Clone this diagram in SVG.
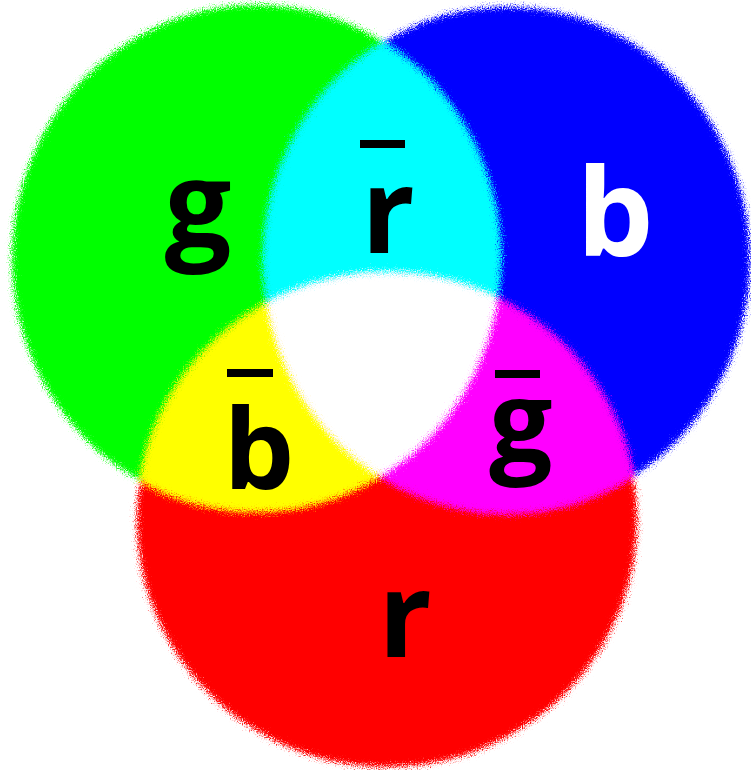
<svg xmlns="http://www.w3.org/2000/svg" width="751" height="770" viewBox="0 0 751 770">
  <style>
    .lbl { font-family: "Open Sans", "DejaVu Sans", sans-serif; font-weight: 700; text-anchor: middle; fill: #000; }
    .bar { fill: #000; }
  </style>
  <defs>
    <ellipse id="gShape" cx="256" cy="258" rx="244" ry="253"/>
    <ellipse id="bShape" cx="507" cy="260" rx="243" ry="253"/>
    <ellipse id="rShape" cx="387" cy="520" rx="250" ry="247"/>
    <clipPath id="clipB"><use href="#bShape"/></clipPath>
    <clipPath id="clipR"><use href="#rShape"/></clipPath>
    <filter id="spray" x="-5%" y="-5%" width="110%" height="110%">
      <feGaussianBlur in="SourceGraphic" stdDeviation="2" result="s"/>
      <feTurbulence type="fractalNoise" baseFrequency="0.85" numOctaves="2" seed="3" result="n"/>
      <feDisplacementMap in="s" in2="n" scale="16" xChannelSelector="R" yChannelSelector="G"/>
    </filter>
  </defs>
  <rect width="751" height="770" fill="#ffffff"/>
  <g id="discs" filter="url(#spray)">
    <g id="green"><use href="#gShape" fill="#00ff00"/></g>
    <g id="blue"><use href="#bShape" fill="#0000ff"/></g>
    <g id="red"><use href="#rShape" fill="#ff0000"/></g>
    <g id="cyan"><use href="#gShape" fill="#00ffff" clip-path="url(#clipB)"/></g>
    <g id="yellow"><use href="#gShape" fill="#ffff00" clip-path="url(#clipR)"/></g>
    <g id="magenta"><use href="#bShape" fill="#ff00ff" clip-path="url(#clipR)"/></g>
    <g id="white" clip-path="url(#clipR)"><use href="#gShape" fill="#ffffff" clip-path="url(#clipB)"/></g>
  </g>
  <g id="labels">
    <g id="label-g"><text class="lbl" x="198" y="246" font-size="118">g</text></g>
    <g id="label-rbar"><rect class="bar" x="360" y="140" width="45" height="8"/><text class="lbl" x="388" y="253" font-size="118">r</text></g>
    <g id="label-b"><text class="lbl" x="615" y="256" font-size="122" style="fill:#fff">b</text></g>
    <g id="label-bbar"><rect class="bar" x="227" y="369" width="46" height="8"/><text class="lbl" x="259" y="489" font-size="112">b</text></g>
    <g id="label-gbar"><rect class="bar" x="495" y="370" width="45" height="8"/><text class="lbl" x="521" y="461" font-size="112">g</text></g>
    <g id="label-r"><text class="lbl" x="405" y="657" font-size="118">r</text></g>
  </g>
</svg>
